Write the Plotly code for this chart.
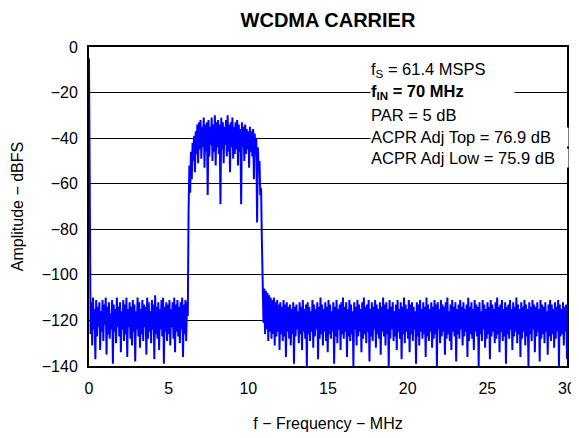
import numpy as np
import plotly.graph_objects as go

# Spectrum amplitude (dBFS), split in three frequency spans
span_low = (0.0, 6.15)
amp_low = [
    -5, -108, -126, -112, -131, -110, -124, -115, -137, -111,
    -127, -114, -123, -112, -133, -116, -125, -111, -129, -113,
    -122, -110, -135, -114, -126, -112, -128, -117, -124, -111,
    -139, -113, -125, -115, -130, -110, -123, -114, -127, -112,
    -134, -116, -124, -111, -129, -113, -126, -110, -136, -115,
    -123, -112, -128, -114, -131, -111, -125, -113, -138, -116,
    -124, -110, -127, -112, -132, -115, -126, -111, -129, -113,
    -123, -114, -135, -110, -128, -112, -125, -116, -130, -111,
    -124, -113, -137, -109, -126, -114, -128, -112, -133, -115,
    -124, -111, -127, -110, -139, -114, -125, -112, -129, -113,
    -126, -111, -131, -115, -123, -112, -128, -110, -134, -113,
    -125, -111, -127, -114, -130, -112, -124, -110, -136, -113,
    -126, -111, -129, -112,
]

span_carrier = (6.2, 10.85)
amp_carrier = [
    -118, -72, -52, -64, -46, -58, -42, -50, -39, -55, -37, -47, -34, -51, -33, -45, -32, -49, -35, -44,
    -31, -53, -34, -46, -33, -65, -32, -48, -35, -43, -31, -50, -34, -46, -30, -52, -33, -44, -32, -47,
    -34, -69, -31, -45, -33, -51, -35, -43, -32, -48, -30, -46, -34, -55, -33, -44, -31, -49, -35, -47,
    -33, -45, -32, -52, -34, -46, -36, -69, -33, -44, -35, -50, -34, -47, -36, -45, -37, -53, -35, -46,
    -37, -48, -36, -58, -38, -47, -40, -77, -44, -55, -50, -65, -62, -85,
]

span_high = (10.9, 30.0)
amp_high = [
    -104, -121, -106, -126, -107, -124, -108, -129, -109, -125, -110, -128, -111, -126, -110, -131, -112, -127, -111, -125,
    -113, -133, -112, -126, -114, -129, -111, -127, -113, -136, -112, -125, -114, -128, -113, -131, -115, -126, -112, -139,
    -114, -127, -113, -124, -116, -130, -112, -126, -114, -133, -111, -125, -115, -128, -113, -140, -112, -126, -114, -129,
    -116, -125, -111, -132, -113, -127, -115, -124, -112, -137, -114, -128, -110, -126, -113, -131, -115, -125, -112, -129,
    -114, -134, -111, -126, -113, -128, -116, -125, -112, -139, -114, -127, -111, -130, -115, -124, -113, -133, -112, -126,
    -110, -128, -114, -125, -112, -136, -115, -127, -111, -129, -113, -126, -116, -140, -112, -124, -114, -131, -111, -127,
    -113, -125, -115, -134, -112, -128, -110, -126, -114, -130, -113, -125, -111, -138, -115, -127, -112, -129, -114, -124,
    -111, -132, -113, -126, -115, -128, -112, -135, -114, -125, -110, -127, -113, -131, -112, -126, -115, -140, -111, -128,
    -114, -124, -112, -129, -116, -127, -113, -133, -111, -125, -115, -128, -112, -137, -114, -126, -110, -130, -113, -125,
    -115, -128, -111, -134, -113, -126, -112, -129, -114, -124, -116, -139, -112, -127, -113, -131, -111, -125, -115, -128,
    -112, -126, -114, -136, -110, -127, -113, -129, -115, -125, -112, -132, -114, -128, -111, -126, -113, -140, -112, -124,
    -115, -130, -111, -127, -113, -125, -114, -135, -112, -128, -110, -126, -116, -129, -113, -133, -111, -125, -114, -127,
    -112, -138, -115, -126, -113, -128, -111, -124, -114, -131, -112, -127, -115, -125, -113, -136, -110, -129, -114, -126,
    -112, -128, -115, -133, -111, -125, -113, -127, -114, -140, -112, -126, -116, -129, -111, -124, -113, -132, -115, -128,
    -112, -126, -114, -137, -111, -127, -113, -125, -115, -130, -112, -128, -110, -126, -114, -134, -113, -125, -111, -129,
    -115, -127, -112, -139, -114, -126, -113, -128, -111, -124, -115, -133, -112, -127, -114, -125, -110, -130, -113, -126,
    -115, -136, -112, -128, -114, -125, -111, -131, -113, -127, -115, -140, -112, -126, -114, -129, -111, -124, -113, -134,
    -114, -127, -112, -125, -115, -138, -111, -128, -113, -126, -114, -130, -112, -125, -116, -135, -113, -127, -111, -129,
    -113, -126, -115, -132, -112, -128, -114, -125, -111, -140, -113, -127, -115, -126, -112, -131, -114, -125, -113, -137,
]

x_ticks = [0, 5, 10, 15, 20, 25, 30]
y_ticks = [0, -20, -40, -60, -80, -100, -120, -140]

info_lines = [
    "f<sub>S</sub> = 61.4 MSPS",
    "<b>f<sub>IN</sub> = 70 MHz</b>",
    "PAR = 5 dB",
    "ACPR Adj Top = 76.9 dB",
    "ACPR Adj Low = 75.9 dB",
]
info_y = [-10.1, -19.9, -29.8, -39.6, -48.8]
info_w = [170, 143, 170, 197, 197]

freq = np.concatenate([
    np.linspace(span_low[0], span_low[1], len(amp_low)),
    np.linspace(span_carrier[0], span_carrier[1], len(amp_carrier)),
    np.linspace(span_high[0], span_high[1], len(amp_high)),
])
amp = amp_low + amp_carrier + amp_high

FONT = "Liberation Sans, Arial, Helvetica, sans-serif"

fig = go.Figure()
fig.add_trace(go.Scatter(x=freq, y=amp, mode="lines",
                         line=dict(color="#0000FF", width=2), hoverinfo="skip"))

for txt, yy, w in zip(info_lines, info_y, info_w):
    fig.add_annotation(x=17.65, y=yy, xref="x", yref="y", text=txt, showarrow=False,
                       xanchor="left", yanchor="middle", align="left", width=w,
                       bgcolor="white", borderpad=0,
                       font=dict(family=FONT, size=16.5, color="black"))

fig.update_layout(
    template="none",
    width=571, height=430,
    margin=dict(l=81, r=12, t=39, b=72, autoexpand=False),
    paper_bgcolor="white", plot_bgcolor="white",
    showlegend=False,
    font=dict(family=FONT, size=16, color="black"),
    title=dict(text="<b>WCDMA CARRIER</b>", x=0.5, xref="paper", xanchor="center",
               y=1 - 12 / 430, yref="container", yanchor="middle",
               font=dict(family=FONT, size=20, color="black")),
)
fig.update_xaxes(range=[0, 30], tickvals=x_ticks, showgrid=False, zeroline=False,
                 automargin=False,
                 showline=True, mirror=True, linecolor="black", linewidth=2,
                 ticks="outside", ticklen=7, tickcolor="rgba(0,0,0,0)",
                 tickfont=dict(size=16),
                 title=dict(text="f − Frequency − MHz", standoff=22, font=dict(size=16)))
fig.update_yaxes(range=[-140, 0], tickvals=y_ticks, showgrid=True, gridcolor="black",
                 gridwidth=1, zeroline=False, automargin=False,
                 showline=True, mirror=True, linecolor="black", linewidth=2,
                 ticks="outside", ticklen=6, tickcolor="rgba(0,0,0,0)",
                 tickfont=dict(size=16),
                 title=dict(text="Amplitude − dBFS", standoff=14, font=dict(size=16)))

fig.write_html("out.html")
